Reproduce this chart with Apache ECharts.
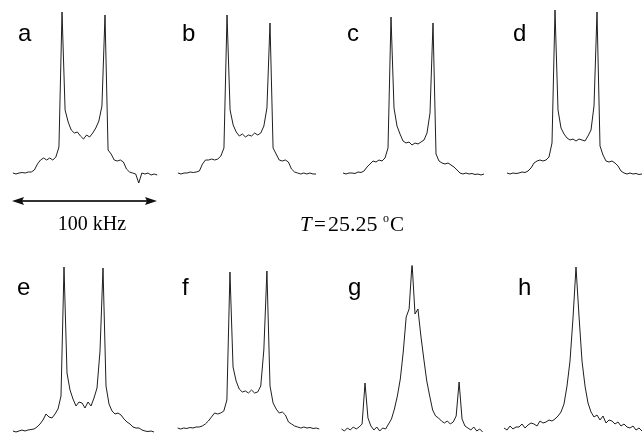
<!DOCTYPE html>
<html>
<head>
<meta charset="utf-8">
<script src="https://cdn.jsdelivr.net/npm/echarts@6/dist/echarts.min.js"></script>
<style>
html,body{margin:0;padding:0;background:#fff}
#main{width:642px;height:436px}
</style>
</head>
<body>
<div id="main"></div>
<script>
/* panel letters */
var labels = ['a', 'b', 'c', 'd', 'e', 'f', 'g', 'h'];

/* spectra, intensity (same step in x for each point) */
var specA = [5,4,5,5.5,5,6,6,8,14,18,20,18,20,18,21,31,166,68,56,48,45,46,42,39,43,41,45,50,57,72,163,28,24,18,17,18,16,9,6,5,4,-5,5,4,5,3,4,3];
var specB = [5,4,5,5,6,5.5,6,7,14,18,18,19,18,19,22,30,163,68,53,46,42,44,41,43,42,45,43,45,52,70,155,30,24,18,17,18,16,9,6,5,4,5,4,5,4,4];
var specC = [5,4,5,5,4.5,6,5.5,7,11,14,17,16,18,17,20,30,161,70,52,44,37,35,36,33,35,34,36,38,45,65,155,24,17,15,14,15,13,11,8,5,4,5,4,4.5,3.5,4,3,4];
var specD = [5,4,5,4.5,5,6,5.5,7,10,15,17,18,17,18,21,35,168,68,50,44,40,38,39,37,39,38,37,42,48,72,166,32,23,17,16,17,15,12,7,5,4,5,4,4.5,3.5,4];
var specE = [5,4,5,6,5,6,6.5,7,9,12,16,22,19,18,22,27,40,169,63,46,37,30,34,33,28,34,30,38,48,85,168,50,32,25,22,23,21,17,14,12,9,8,8,6,5,4.5,5,4];
var specF = [8,7,8,7.5,8.5,8,9,9,10,12,15,19,23,22,23,25,36,164,69,55,47,44,45,43,46,43,44,50,86,165,50,33,27,23,24,21,14,12,10,9,8,9,8,8.5,7.5,8,7];
var specG = [7,5,8,6,9,7,9,12,53,18,10,6,9,5,8,7,12,17,27,40,57,84,119,127,173,122,127,100,77,55,40,26,20,18,15,13,15,12,14,20,54,17,10,8,6,9,5,7,4];
var specH = [8,6,10,7,9,9,12,8,11,13,12,10,15,13,14,16,15,17,20,24,32,50,75,118,169,120,75,50,33,24,19,21,16,20,13,16,15,12,14,10,12,9,8,10,6,8,5];

var spectra = [specA, specB, specC, specD, specE, specF, specG, specH];

/* left edge, x step, row */
var layout = [
  [12.9, 3.07, 0], [177.9, 3.07, 0], [343, 3, 0], [507, 3, 0],
  [13, 3, 1], [177.6, 3.08, 1], [341.5, 2.94, 1], [504, 3, 1]
];
var labelPos = [[18,34],[182,34],[347,34],[513,34],[17,288],[182,288],[348,288],[518,288]];

var grids = [], xAxes = [], yAxes = [], series = [], graphics = [];

for (var k = 0; k < spectra.length; k++) {
  var d = spectra[k];
  var row = layout[k][2];
  var idx = [];
  for (var i = 0; i < d.length; i++) idx.push(i);
  grids.push({
    left: layout[k][0],
    width: (d.length - 1) * layout[k][1],
    top: row ? 266 : 8,
    height: row ? 170 : 180
  });
  xAxes.push({ type: 'category', gridIndex: k, data: idx, boundaryGap: false, show: false });
  yAxes.push({ type: 'value', gridIndex: k, min: row ? 0 : -10, max: 170, show: false });
  series.push({
    type: 'line',
    xAxisIndex: k,
    yAxisIndex: k,
    data: d,
    symbol: 'none',
    silent: true,
    lineStyle: { width: 1, color: '#1e1e1e' }
  });
  graphics.push({
    type: 'text',
    x: labelPos[k][0],
    y: labelPos[k][1],
    style: { text: labels[k], font: '24px "Liberation Sans", Arial, sans-serif', fill: '#000', textVerticalAlign: 'middle' }
  });
}

var serif = '"Liberation Serif", serif';

/* 100 kHz arrow */
graphics.push(
  { type: 'line', shape: { x1: 20, y1: 201, x2: 149, y2: 201 }, style: { stroke: '#333', lineWidth: 2 } },
  { type: 'polygon', shape: { points: [[12,201],[24,197],[22,201],[24,205]] }, style: { fill: '#111' } },
  { type: 'polygon', shape: { points: [[157,201],[145,197],[147,201],[145,205]] }, style: { fill: '#111' } },
  { type: 'text', x: 92, y: 225, style: { text: '100 kHz', font: '20px ' + serif, fill: '#000', textAlign: 'center', textVerticalAlign: 'middle' } }
);

/* temperature */
graphics.push(
  { type: 'text', x: 300, y: 225, style: { text: 'T', font: 'italic 21px ' + serif, fill: '#000', textVerticalAlign: 'middle' } },
  { type: 'text', x: 314, y: 225, style: { text: '=', font: '21px ' + serif, fill: '#000', textVerticalAlign: 'middle' } },
  { type: 'text', x: 328, y: 225, style: { text: '25.25', font: '22px ' + serif, fill: '#000', textVerticalAlign: 'middle' } },
  { type: 'text', x: 383, y: 219, style: { text: 'o', font: '12px ' + serif, fill: '#000', textVerticalAlign: 'middle' } },
  { type: 'text', x: 390, y: 225, style: { text: 'C', font: '21px ' + serif, fill: '#000', textVerticalAlign: 'middle' } }
);

var myChart = echarts.init(document.getElementById('main'));
myChart.setOption({
  animation: false,
  backgroundColor: '#fff',
  grid: grids,
  xAxis: xAxes,
  yAxis: yAxes,
  series: series,
  graphic: graphics
});
</script>
</body>
</html>
